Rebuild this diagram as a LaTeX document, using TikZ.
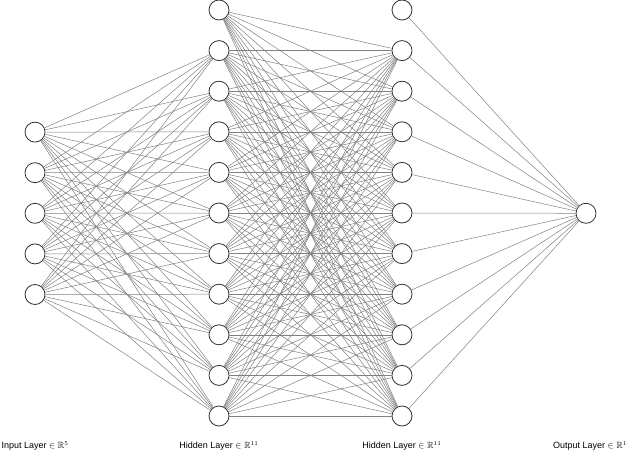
\documentclass[tikz,border=0pt]{standalone}
\usepackage{amssymb}
\usepackage{fontspec}
\setmainfont{Liberation Sans}

\begin{document}
\begin{tikzpicture}[x=1pt,y=-1pt,font=\fontsize{9}{11}\selectfont,
  neuron/.style={circle,draw=black!80,fill=white,line width=0.8pt,minimum size=20pt,inner sep=0pt},
  wire/.style={draw=black!50,line width=0.5pt}]
 \useasboundingbox (0,0) rectangle (640,465);
 % units
 \foreach \k in {1,...,5}
   {\node[neuron] (i\k) at (35,{213.3+(\k-3)*40.6}) {};}
 \foreach \k in {0,...,10}
   {\node[neuron] (a\k) at (219,{10+\k*40.6}) {};
    \node[neuron] (b\k) at (402,{10+\k*40.6}) {};}
 \node[neuron] (out) at (586,213.3) {};
 % weights
 \foreach \s in {1,...,5}
   \foreach \t in {1,...,10}
     {\draw[wire] (i\s) -- (a\t);}
 \foreach \s in {0,...,10}
   \foreach \t in {1,...,10}
     {\draw[wire] (a\s) -- (b\t);}
 \foreach \s in {0,...,10}
   {\draw[wire] (b\s) -- (out);}
 % layer names
 \node (li) at (35,446) {Input Layer $\in\mathbb{R}^{5}$};
 \node (la) at (219,446) {Hidden Layer $\in\mathbb{R}^{11}$};
 \node (lb) at (402,446) {Hidden Layer $\in\mathbb{R}^{11}$};
 \node (lo) at (590,446) {Output Layer $\in\mathbb{R}^{1}$};
\end{tikzpicture}
\end{document}
